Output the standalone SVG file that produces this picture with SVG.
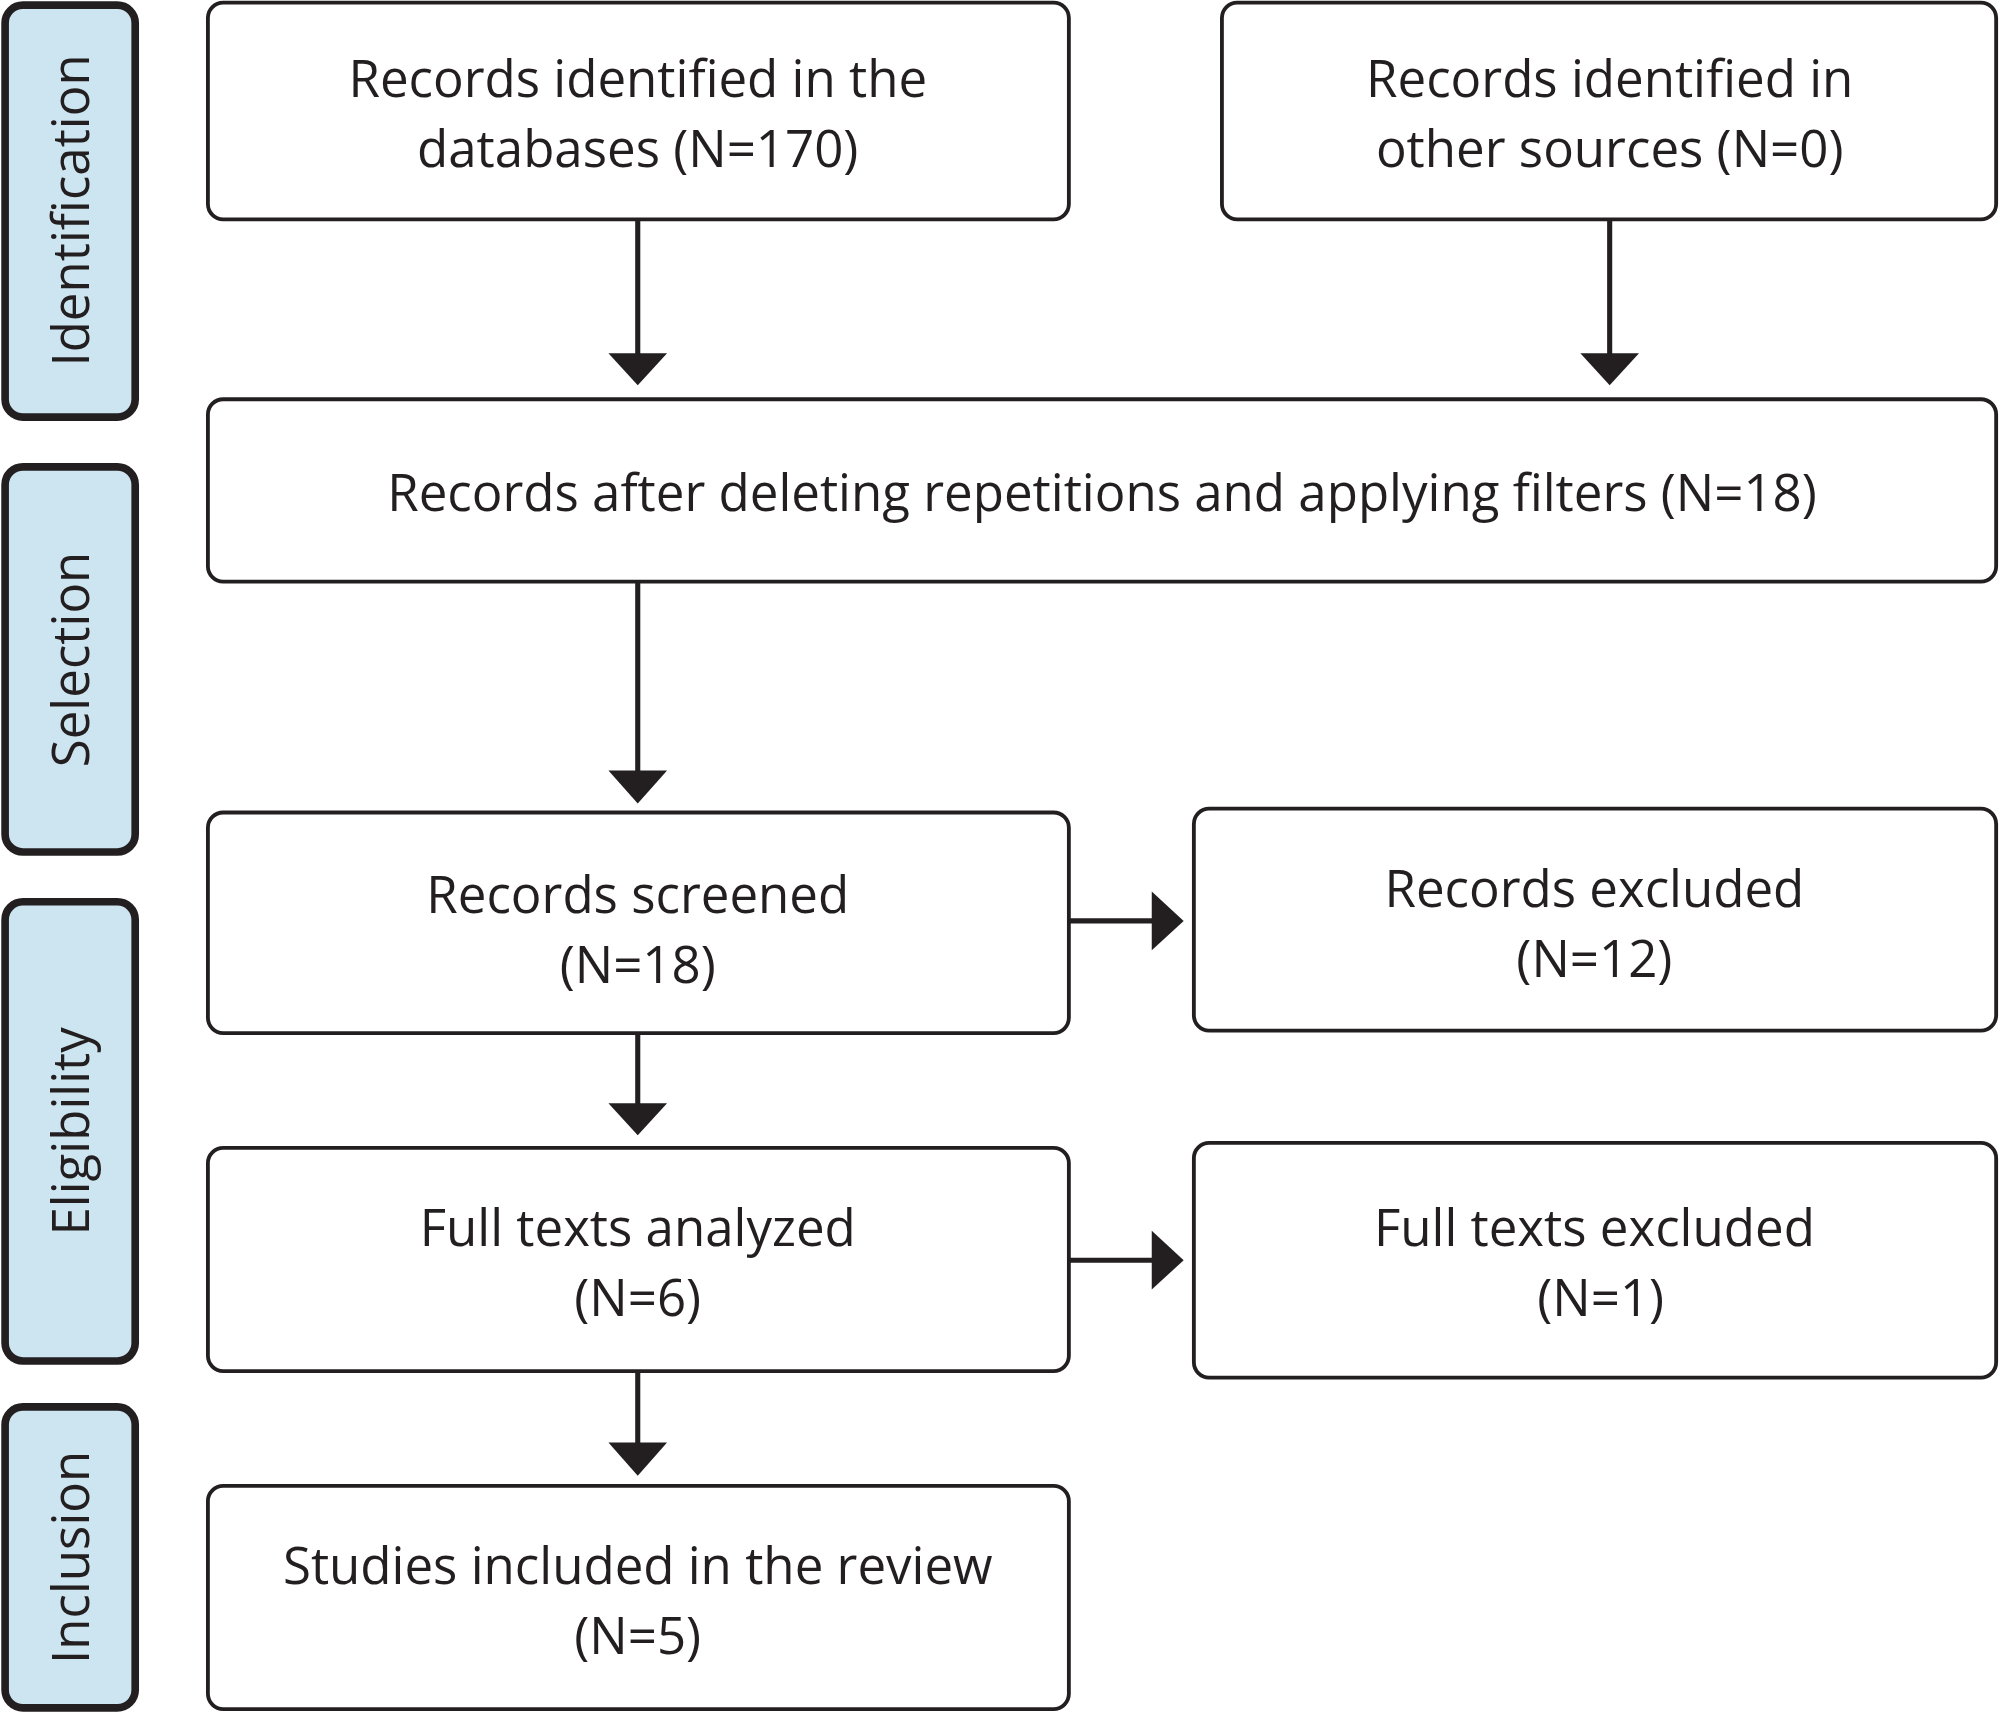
<svg xmlns="http://www.w3.org/2000/svg" width="2000" height="1713" viewBox="0 0 2000 1713">
<style>
.box{fill:#fff;stroke:#231f20;stroke-width:3}
.side{fill:#cde5f0;stroke:#231f20;stroke-width:6}
.t{font-family:"Open Sans","Liberation Sans",sans-serif;font-size:40px;fill:#231f20;text-anchor:middle}
.ln{stroke:#231f20;stroke-width:4;fill:none}
.hd{fill:#231f20}
</style>
<rect width="2000" height="1713" fill="#fff"/>
<g transform="scale(1.2755)">
<g id="side-identification"><rect class="side" x="4" y="4" width="102" height="323" rx="14"/><text class="t" transform="translate(70,165) rotate(-90)">Identification</text></g>
<g id="side-selection"><rect class="side" x="4" y="366" width="102" height="302" rx="14"/><text class="t" transform="translate(70,517) rotate(-90)">Selection</text></g>
<g id="side-eligibility"><rect class="side" x="4" y="707" width="102" height="360" rx="14"/><text class="t" transform="translate(70,887) rotate(-90)">Eligibility</text></g>
<g id="side-inclusion"><rect class="side" x="4" y="1103" width="102" height="236" rx="14"/><text class="t" transform="translate(70,1221) rotate(-90)">Inclusion</text></g>

<g id="n-databases"><rect class="box" x="163" y="2" width="675" height="170" rx="12"/><text class="t" x="500" y="76">Records identified in the</text><text class="t" x="500" y="131">databases (N=170)</text></g>
<g id="n-other"><rect class="box" x="958" y="2" width="607" height="170" rx="12"/><text class="t" x="1262" y="76">Records identified in</text><text class="t" x="1262" y="131">other sources (N=0)</text></g>
<g id="n-after"><rect class="box" x="163" y="313" width="1402" height="143" rx="12"/><text class="t" x="864" y="401">Records after deleting repetitions and applying filters (N=18)</text></g>
<g id="n-screened"><rect class="box" x="163" y="637" width="675" height="173" rx="12"/><text class="t" x="500" y="716">Records screened</text><text class="t" x="500" y="771">(N=18)</text></g>
<g id="n-excluded"><rect class="box" x="936" y="634" width="629" height="174" rx="12"/><text class="t" x="1250" y="711">Records excluded</text><text class="t" x="1250" y="766">(N=12)</text></g>
<g id="n-full"><rect class="box" x="163" y="900" width="675" height="175" rx="12"/><text class="t" x="500" y="977">Full texts analyzed</text><text class="t" x="500" y="1032">(N=6)</text></g>
<g id="n-fullex"><rect class="box" x="936" y="896" width="629" height="184" rx="12"/><text class="t" x="1250" y="977">Full texts excluded</text><text class="t" x="1255" y="1032">(N=1)</text></g>
<g id="n-included"><rect class="box" x="163" y="1165" width="675" height="175" rx="12"/><text class="t" x="500" y="1242">Studies included in the review</text><text class="t" x="500" y="1297">(N=5)</text></g>

<g id="connectors">
<path class="ln" d="M500 172V280"/><path class="hd" d="M477 277H523L500 302Z"/>
<path class="ln" d="M1262 172V280"/><path class="hd" d="M1239 277H1285L1262 302Z"/>
<path class="ln" d="M500 456V607"/><path class="hd" d="M477 604H523L500 630Z"/>
<path class="ln" d="M838 722H906"/><path class="hd" d="M903 699V745L928 722Z"/>
<path class="ln" d="M500 810V868"/><path class="hd" d="M477 865H523L500 890Z"/>
<path class="ln" d="M838 988H906"/><path class="hd" d="M903 965V1011L928 988Z"/>
<path class="ln" d="M500 1075V1134"/><path class="hd" d="M477 1131H523L500 1157Z"/>
</g>
</g>
</svg>
